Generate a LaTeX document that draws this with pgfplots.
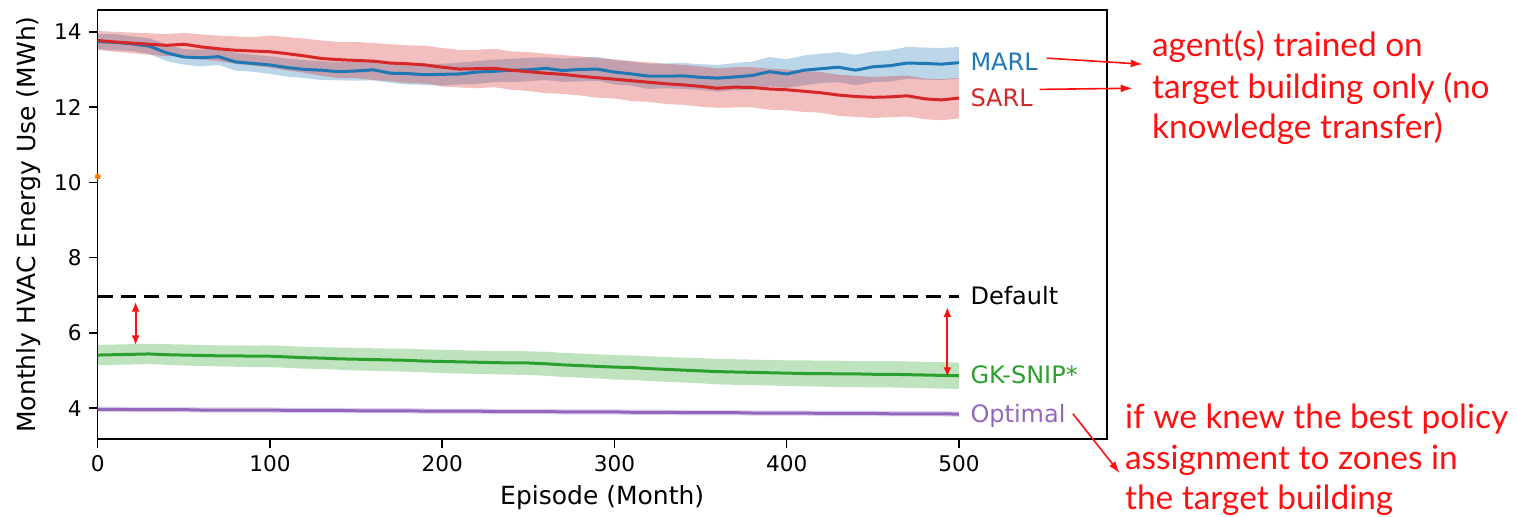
\documentclass[border=0pt]{standalone}
\usepackage{pgfplots}
\pgfplotsset{compat=1.18}
\usepackage{pgfplotstable}
\usepgfplotslibrary{fillbetween}
\usetikzlibrary{arrows.meta}
\usepackage{fontspec}
\setmainfont{DejaVu Sans}
\newfontfamily\annot{Lato}

\definecolor{tabblue}{HTML}{1F77B4}
\definecolor{tabred}{HTML}{D62728}
\definecolor{tabgreen}{HTML}{2CA02C}
\definecolor{tabpurple}{HTML}{9467BD}
\definecolor{taborange}{HTML}{FF7F0E}
\definecolor{annred}{HTML}{FF1010}

% ep, MARL mean/lo/hi, SARL mean/lo/hi, GK-SNIP* mean/lo/hi, Optimal mean/lo/hi
\pgfplotstableread{
ep  marl  mlo   mhi   sarl  slo   shi   gk   glo  ghi  opt  olo  ohi
0   13.74 13.54 13.94 13.77 13.52 14.02 5.41 5.14 5.68 3.97 3.90 4.04
10  13.72 13.51 13.94 13.73 13.47 14.00 5.42 5.15 5.69 3.97 3.90 4.04
20  13.68 13.49 13.88 13.70 13.43 13.98 5.43 5.16 5.70 3.96 3.89 4.03
30  13.62 13.41 13.83 13.67 13.39 13.96 5.44 5.17 5.71 3.96 3.89 4.03
40  13.44 13.22 13.66 13.64 13.35 13.94 5.42 5.15 5.70 3.96 3.89 4.03
50  13.33 13.13 13.54 13.67 13.36 13.97 5.41 5.13 5.69 3.96 3.89 4.03
60  13.31 13.08 13.53 13.60 13.27 13.93 5.40 5.12 5.68 3.95 3.88 4.02
70  13.34 13.12 13.56 13.55 13.22 13.90 5.39 5.11 5.67 3.95 3.88 4.02
80  13.20 12.97 13.44 13.51 13.15 13.88 5.39 5.10 5.67 3.95 3.88 4.02
90  13.16 12.94 13.39 13.49 13.10 13.86 5.38 5.09 5.66 3.95 3.88 4.02
100 13.12 12.88 13.35 13.47 13.05 13.90 5.38 5.09 5.67 3.95 3.88 4.02
110 13.05 12.81 13.29 13.42 12.97 13.86 5.36 5.07 5.65 3.94 3.87 4.01
120 13.00 12.77 13.25 13.36 12.91 13.82 5.34 5.05 5.63 3.94 3.87 4.01
130 12.98 12.72 13.22 13.29 12.83 13.77 5.33 5.04 5.62 3.94 3.87 4.01
140 12.94 12.71 13.19 13.26 12.77 13.73 5.31 5.02 5.61 3.94 3.87 4.01
150 12.96 12.70 13.21 13.24 12.77 13.73 5.30 5.00 5.60 3.93 3.86 4.00
160 12.99 12.71 13.26 13.22 12.72 13.70 5.29 4.99 5.59 3.93 3.86 4.00
170 12.90 12.64 13.18 13.17 12.69 13.67 5.28 4.98 5.58 3.93 3.86 4.00
180 12.89 12.60 13.16 13.15 12.64 13.64 5.27 4.97 5.58 3.93 3.86 4.00
190 12.86 12.59 13.15 13.12 12.63 13.63 5.25 4.95 5.56 3.92 3.85 3.99
200 12.87 12.57 13.15 13.06 12.55 13.57 5.24 4.93 5.55 3.92 3.85 3.99
210 12.88 12.60 13.18 13.01 12.52 13.52 5.23 4.92 5.54 3.92 3.85 3.99
220 12.93 12.62 13.22 13.02 12.50 13.52 5.22 4.91 5.53 3.92 3.85 3.99
230 12.95 12.66 13.26 13.03 12.53 13.55 5.21 4.90 5.52 3.91 3.84 3.98
240 12.98 12.66 13.28 12.98 12.46 13.48 5.20 4.89 5.52 3.91 3.84 3.98
250 12.99 12.69 13.31 12.94 12.43 13.46 5.20 4.88 5.51 3.91 3.84 3.98
260 13.03 12.72 13.32 12.90 12.37 13.42 5.18 4.86 5.50 3.91 3.84 3.98
270 12.97 12.67 13.29 12.87 12.35 13.38 5.15 4.83 5.47 3.90 3.83 3.97
280 13.00 12.68 13.31 12.82 12.31 13.35 5.13 4.81 5.45 3.90 3.83 3.97
290 13.01 12.70 13.34 12.78 12.25 13.30 5.11 4.79 5.43 3.90 3.83 3.97
300 12.93 12.60 13.25 12.74 12.23 13.27 5.09 4.76 5.41 3.90 3.83 3.97
310 12.88 12.57 13.21 12.70 12.16 13.22 5.08 4.75 5.40 3.89 3.82 3.96
320 12.82 12.48 13.15 12.66 12.14 13.19 5.05 4.72 5.38 3.89 3.82 3.96
330 12.82 12.50 13.16 12.62 12.08 13.15 5.03 4.70 5.36 3.89 3.82 3.96
340 12.83 12.48 13.17 12.59 12.06 13.12 5.01 4.68 5.34 3.88 3.81 3.95
350 12.79 12.46 13.14 12.55 12.01 13.08 4.99 4.66 5.33 3.88 3.81 3.95
360 12.77 12.41 13.12 12.50 11.98 13.03 4.97 4.63 5.31 3.88 3.81 3.95
370 12.80 12.45 13.17 12.53 11.99 13.06 4.96 4.62 5.30 3.88 3.81 3.95
380 12.84 12.46 13.21 12.52 11.99 13.06 4.95 4.61 5.29 3.87 3.80 3.94
390 12.94 12.55 13.33 12.48 11.93 13.02 4.94 4.60 5.28 3.87 3.80 3.94
400 12.88 12.51 13.27 12.46 11.92 13.00 4.93 4.59 5.27 3.87 3.80 3.94
410 12.98 12.58 13.37 12.42 11.87 12.96 4.92 4.58 5.27 3.87 3.80 3.94
420 13.02 12.64 13.42 12.38 11.85 12.93 4.92 4.57 5.26 3.86 3.79 3.93
430 13.06 12.66 13.46 12.32 11.77 12.86 4.91 4.56 5.26 3.86 3.79 3.93
440 12.98 12.58 13.39 12.28 11.74 12.83 4.91 4.56 5.25 3.86 3.79 3.93
450 13.07 12.66 13.48 12.26 11.71 12.80 4.90 4.55 5.25 3.86 3.79 3.93
460 13.10 12.68 13.51 12.27 11.73 12.82 4.90 4.55 5.25 3.85 3.78 3.92
470 13.17 12.75 13.60 12.30 11.75 12.84 4.89 4.54 5.24 3.85 3.78 3.92
480 13.16 12.73 13.58 12.22 11.68 12.76 4.88 4.53 5.23 3.85 3.78 3.92
490 13.14 12.72 13.57 12.19 11.65 12.74 4.87 4.52 5.22 3.85 3.78 3.92
500 13.18 12.76 13.60 12.24 11.70 12.78 4.86 4.51 5.21 3.84 3.77 3.91
}\data

\begin{document}
\begin{tikzpicture}
\begin{axis}[
    at={(0,0)}, anchor=south west,
    scale only axis,
    width=504.5pt, height=214.5pt,
    xmin=0, xmax=585.8,
    ymin=3.18, ymax=14.58,
    xtick={0,100,...,500},
    ytick={4,6,...,14},
    tick pos=left,
    tick align=outside,
    major tick length=4.5pt,
    axis line style={line width=0.8pt},
    every tick/.style={black, line width=0.8pt},
    /pgf/number format/assume math mode=true,
    ticklabel style={font=\fontsize{10.8}{13}\selectfont},
    label style={font=\fontsize{12.5}{15}\selectfont},
    xlabel={Episode (Month)},
    ylabel={Monthly HVAC Energy Use (MWh)},
    clip mode=individual,
]
% bands
\addplot[name path=mh, draw=none, forget plot] table[x=ep, y=mhi] {\data};
\addplot[name path=ml, draw=none, forget plot] table[x=ep, y=mlo] {\data};
\addplot[tabblue, fill opacity=0.3, draw=none] fill between[of=mh and ml];
\addplot[name path=sh, draw=none, forget plot] table[x=ep, y=shi] {\data};
\addplot[name path=sl, draw=none, forget plot] table[x=ep, y=slo] {\data};
\addplot[tabred, fill opacity=0.3, draw=none] fill between[of=sh and sl];
\addplot[name path=gh, draw=none, forget plot] table[x=ep, y=ghi] {\data};
\addplot[name path=gl, draw=none, forget plot] table[x=ep, y=glo] {\data};
\addplot[tabgreen, fill opacity=0.3, draw=none] fill between[of=gh and gl];
\addplot[name path=oh, draw=none, forget plot] table[x=ep, y=ohi] {\data};
\addplot[name path=ol, draw=none, forget plot] table[x=ep, y=olo] {\data};
\addplot[tabpurple, fill opacity=0.3, draw=none] fill between[of=oh and ol];

% mean lines
\addplot[tabblue, line width=1.5pt, no marks] table[x=ep, y=marl] {\data};
\addplot[tabred, line width=1.5pt, no marks] table[x=ep, y=sarl] {\data};
\addplot[tabgreen, line width=1.5pt, no marks] table[x=ep, y=gk] {\data};
\addplot[tabpurple, line width=1.5pt, no marks] table[x=ep, y=opt] {\data};
\addplot[black, line width=1.5pt, dash pattern=on 7.5pt off 4pt, no marks] coordinates {(0,6.97) (500,6.97)};
\addplot[taborange, only marks, mark=*, mark size=1.3pt] coordinates {(0,10.15)};

% series labels
\begin{scope}[font=\fontsize{12}{14}\selectfont, inner sep=0pt, anchor=base west]
\node[tabblue]   at (axis cs:506.5,12.98) {MARL};
\node[tabred]    at (axis cs:506.5,12.02) {SARL};
\node[black]     at (axis cs:506.5,6.757) {Default};
\node[tabgreen]  at (axis cs:506.5,4.648) {GK-SNIP*};
\node[tabpurple] at (axis cs:506.5,3.627) {Optimal};
\end{scope}

% gap arrows
\draw[draw=annred, fill=annred, line width=1pt, {Latex[length=5pt,width=4pt]}-{Latex[length=5pt,width=4pt]}]
    (axis cs:22,6.83) -- (axis cs:22,5.67);
\draw[draw=annred, fill=annred, line width=1pt, {Latex[length=5pt,width=4pt]}-{Latex[length=5pt,width=4pt]}]
    (axis cs:493.3,6.69) -- (axis cs:493.3,4.82);

% annotations
\draw[annred, line width=0.8pt, -{Latex[length=6pt,width=4pt]}] (axis cs:551,13.30) -- (axis cs:606.7,13.14);
\draw[annred, line width=0.8pt, -{Latex[length=6pt,width=4pt]}] (axis cs:546.9,12.47) -- (axis cs:600.9,12.50);
\draw[annred, line width=0.8pt, -{Latex[length=6pt,width=4pt]}] (axis cs:566.2,3.85) -- (axis cs:593.4,2.27);
\begin{scope}[font=\annot\fontsize{16.7}{19}\selectfont, annred, inner sep=0pt, anchor=base west]
\node at (axis cs:611.9,13.333) {agent(s) trained on};
\node at (axis cs:611.9,12.224) {target building only (no};
\node at (axis cs:611.9,11.157) {knowledge transfer)};
\node at (axis cs:596.2,3.467) {if we knew the best policy};
\node at (axis cs:596.2,2.357) {assignment to zones in};
\node at (axis cs:596.2,1.299) {the target building};
\end{scope}
\end{axis}
\pgfresetboundingbox
\path[use as bounding box] (-48.85pt,-39pt) rectangle (709.65pt,219.5pt);
\end{tikzpicture}
\end{document}
